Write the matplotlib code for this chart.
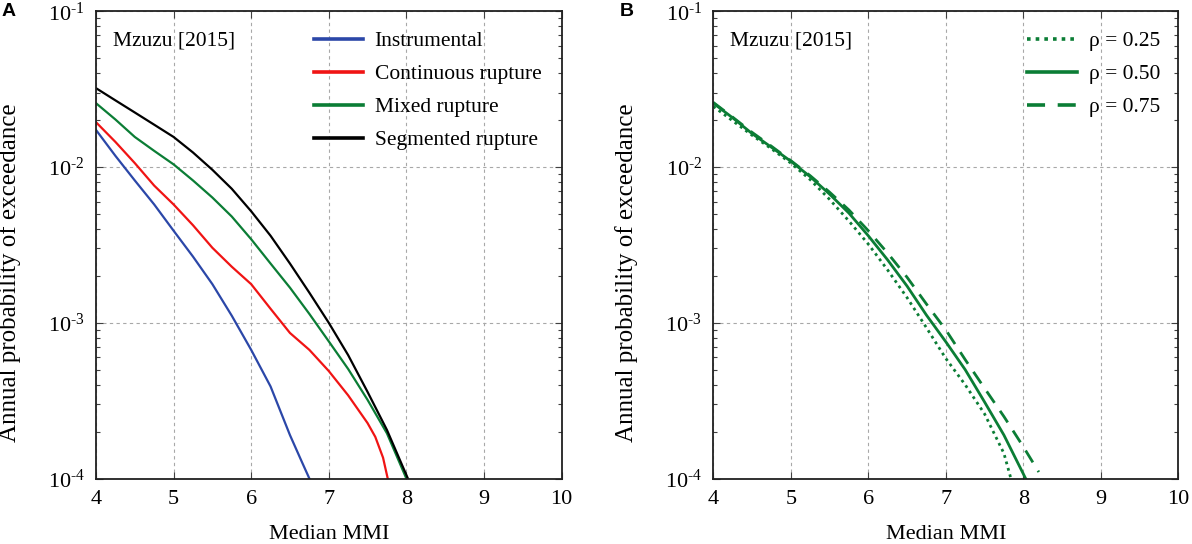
import numpy as np
import matplotlib
matplotlib.use("Agg")
import matplotlib.pyplot as plt
from matplotlib.ticker import LogLocator, NullFormatter, FixedLocator

plt.rcParams['font.family'] = ['Liberation Serif', 'DejaVu Serif']
plt.rcParams['mathtext.fontset'] = 'custom'
plt.rcParams['mathtext.rm'] = 'Liberation Serif'
plt.rcParams['mathtext.it'] = 'Liberation Serif:italic'

# ---------------- data (panel A) ----------------
x_instr = [4.0, 4.25, 4.5, 4.75, 5.0, 5.25, 5.5, 5.75, 6.0, 6.25, 6.5, 6.65, 6.75]
y_instr = [0.0173, 0.0118, 0.0082, 0.00575, 0.0039, 0.00266, 0.00177, 0.00111,
           0.00067, 0.00039, 0.00019, 0.000129, 0.0001]

x_cont = [4.0, 4.25, 4.5, 4.75, 5.0, 5.25, 5.5, 5.75, 6.0, 6.25, 6.5, 6.75, 7.0,
          7.25, 7.5, 7.6, 7.7, 7.76]
y_cont = [0.0194, 0.0145, 0.0106, 0.0076, 0.00575, 0.00423, 0.00303, 0.00229,
          0.00177, 0.00123, 0.00086, 0.00067, 0.00049, 0.000342, 0.000227,
          0.000185, 0.000136, 0.0001]

x_mixed = [4.0, 4.25, 4.5, 4.75, 5.0, 5.25, 5.5, 5.75, 6.0, 6.25, 6.5, 6.75, 7.0,
           7.25, 7.5, 7.75, 8.0]
y_mixed = [0.0257, 0.0202, 0.0156, 0.0127, 0.0104, 0.0082, 0.00637, 0.00481,
           0.00344, 0.0024, 0.00168, 0.00114, 0.00076, 0.000505, 0.00032,
           0.000195, 0.0001]

x_seg = [4.0, 4.25, 4.5, 4.75, 5.0, 5.25, 5.5, 5.75, 6.0, 6.25, 6.5, 6.75, 7.0,
         7.25, 7.5, 7.75, 8.02]
y_seg = [0.0321, 0.0268, 0.0224, 0.0187, 0.0156, 0.0124, 0.0096, 0.00725,
         0.0052, 0.00362, 0.0024, 0.00156, 0.001, 0.00062, 0.00036, 0.000205,
         0.0001]

labels_A = ["Instrumental", "Continuous rupture", "Mixed rupture", "Segmented rupture"]
colors_A = ["#2b47a8", "#f01414", "#0b7d35", "#000000"]

# ---------------- data (panel B) ----------------
x_r25 = [4.0, 4.25, 4.5, 4.75, 5.0, 5.25, 5.5, 5.75, 6.0, 6.25, 6.5, 6.75,
         7.0, 7.25, 7.5, 7.75, 7.84]
y_r25 = [0.0245, 0.0198, 0.016, 0.0131, 0.0106, 0.0083, 0.0062, 0.0045, 0.0032,
         0.00218, 0.00145, 0.00093, 0.00059, 0.0004, 0.00026, 0.000145, 0.0001]

x_r50 = [4.0, 4.25, 4.5, 4.75, 5.0, 5.25, 5.5, 5.75, 6.0, 6.25, 6.5, 6.75, 7.0,
         7.25, 7.5, 7.75, 8.03]
y_r50 = [0.0257, 0.0207, 0.0164, 0.0134, 0.0109, 0.00867, 0.0067, 0.00506,
         0.00362, 0.00253, 0.00172, 0.00112, 0.000755, 0.0005, 0.00031,
         0.00019, 0.0001]

x_r75 = [4.0, 4.25, 4.5, 4.75, 5.0, 5.25, 5.5, 5.75, 6.0, 6.25, 6.5, 6.75, 7.0,
         7.25, 7.5, 7.75, 8.0, 8.2]
y_r75 = [0.026, 0.0209, 0.0167, 0.0136, 0.011, 0.0088, 0.0069, 0.0053, 0.0039,
         0.0028, 0.00196, 0.00132, 0.0009, 0.00058, 0.00038, 0.00025, 0.00016,
         0.00011]

labels_B = ["ρ = 0.25", "ρ = 0.50", "ρ = 0.75"]
green_B = "#0b7d35"

xticks = [4, 5, 6, 7, 8, 9, 10]
yticks = [1e-4, 1e-3, 1e-2, 1e-1]
ytick_labels = [r"$\mathregular{10^{\text{-}4}}$", r"$\mathregular{10^{\text{-}3}}$",
                r"$\mathregular{10^{\text{-}2}}$", r"$\mathregular{10^{\text{-}1}}$"]

FS = 16
LFS = 15.5
W, H = 1192, 544
fig = plt.figure(figsize=(W / 100, H / 100), dpi=100)

axA = fig.add_axes([96 / W, 1 - 478.5 / H, 465.5 / W, 467.2 / H])
axB = fig.add_axes([713.3 / W, 1 - 478.5 / H, 465 / W, 467.2 / H])


def style(ax):
    ax.set_yscale('log')
    ax.set_xlim(4, 10)
    ax.set_ylim(1e-4, 1e-1)
    ax.set_xticks(xticks)
    ax.set_xticklabels([str(t) for t in xticks])
    ax.yaxis.set_major_locator(FixedLocator(yticks))
    ax.set_yticklabels(ytick_labels)
    ax.yaxis.set_minor_locator(LogLocator(base=10, subs=np.arange(2, 10), numticks=20))
    ax.yaxis.set_minor_formatter(NullFormatter())
    ax.tick_params(which='both', direction='in', top=True, right=True,
                   labelsize=FS, width=0.8, color='#404040')
    ax.tick_params(which='major', length=5, pad=8)
    ax.tick_params(which='minor', length=3)
    ax.tick_params(axis='x', which='minor', bottom=False, top=False)
    ax.grid(True, which='major', linestyle=(0, (3, 3)), color='#a8a8a8', linewidth=0.8)
    for s in ax.spines.values():
        s.set_linewidth(1.3)
        s.set_color('#202020')
    ax.set_xlabel("Median MMI", fontsize=FS, labelpad=12)
    ax.set_ylabel("Annual probability of exceedance", fontsize=18)
    ax.text(0.036, 0.937, "Mzuzu [2015]", transform=ax.transAxes, fontsize=LFS,
            ha='left', va='center')


style(axA)
style(axB)
axA.yaxis.set_label_coords(-75 / 465.5, 0.44)
axB.yaxis.set_label_coords(-75 / 465.0, 0.44)

series_A = [(x_instr, y_instr), (x_cont, y_cont), (x_mixed, y_mixed), (x_seg, y_seg)]
for (xs, ys), c, lab in zip(series_A, colors_A, labels_A):
    axA.plot(xs, ys, color=c, lw=1.6, label=lab, solid_joinstyle='round')

legA = axA.legend(loc='upper left', bbox_to_anchor=(0.469, 0.957), frameon=False,
                  fontsize=LFS, handlelength=2.25, handletextpad=0.55,
                  labelspacing=0.6, borderpad=0, borderaxespad=0)
for h in legA.legend_handles:
    h.set_linewidth(2.6)

axB.plot(x_r25, y_r25, color=green_B, lw=2.0, linestyle=(0, (1, 1.4)), label=labels_B[0])
axB.plot(x_r50, y_r50, color=green_B, lw=2.0, linestyle='-', label=labels_B[1])
axB.plot(x_r75, y_r75, color=green_B, lw=2.0, linestyle=(0, (5, 3.5)), label=labels_B[2])

legB = axB.legend(loc='upper left', bbox_to_anchor=(0.675, 0.957), frameon=False,
                  fontsize=LFS, handlelength=2.3, handletextpad=0.55,
                  labelspacing=0.6, borderpad=0, borderaxespad=0)
for h in legB.legend_handles:
    h.set_linewidth(2.6)

fig.text(2 / W, 1 - 11 / H, "A", fontsize=14, fontweight='bold',
         family='Liberation Sans', ha='left', va='center')
fig.text(620 / W, 1 - 11 / H, "B", fontsize=14, fontweight='bold',
         family='Liberation Sans', ha='left', va='center')

fig.savefig("out.png", dpi=100)
